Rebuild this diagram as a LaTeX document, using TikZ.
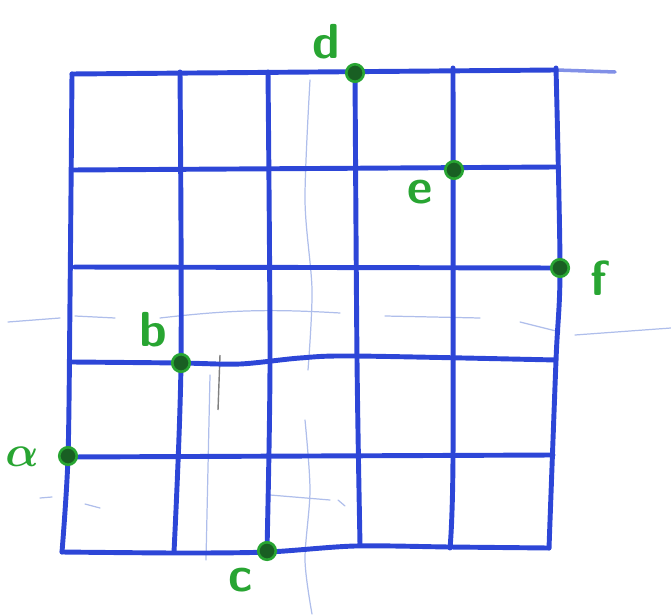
\documentclass[tikz,border=0pt]{standalone}
\usepackage{amsmath}
\usetikzlibrary{positioning}
\definecolor{pen}{RGB}{45,70,215}
\definecolor{ghost}{RGB}{175,190,235}
\definecolor{inkgreen}{RGB}{40,165,50}
\definecolor{inkdark}{RGB}{25,95,35}
\tikzset{
  gridline/.style={pen, line width=2.8pt, line cap=round, line join=round},
  faint/.style={ghost, line width=0.7pt, line cap=round},
  dot/.style={circle, draw=inkgreen, fill=inkdark, line width=1.5pt, minimum size=0.35cm, inner sep=0pt},
  letter/.style={text=inkgreen, font=\fontsize{28}{28}\selectfont\sffamily\bfseries}
}
\begin{document}
\begin{tikzpicture}[x=0.02cm, y=-0.02cm]
  \useasboundingbox (0,0) rectangle (671,614);
  % show-through from the back of the sheet
  \draw[faint] (8,322) -- (60,318) (75,316) -- (115,318) (160,318) to[bend left=5] (340,313);
  \draw[faint] (385,316) -- (480,318) (520,322) -- (560,332) (575,335) -- (671,328);
  \draw[faint] (40,498) -- (52,497) (85,504) -- (100,508) (270,495) -- (330,500) (338,500) -- (345,506);
  \draw[faint] plot[smooth] coordinates {(310,80) (305,200) (312,290) (308,370)};
  \draw[faint] plot[smooth] coordinates {(305,420) (310,490) (305,560) (312,614)};
  \draw[faint] (210,375) -- (206,560);
  \draw[gray, line width=0.8pt] (220,355) -- (218,410);

  % horizontal lines
  \draw[gridline] (72,74) -- (556,70);
  \draw[pen, line width=2pt, line cap=round, opacity=0.6] (556,70) -- (615,72);
  \draw[gridline] (72,170) -- (556,167);
  \draw[gridline] (75,267) -- (560,268);
  \draw[gridline] plot[smooth] coordinates {(72,362) (180,363) (240,364) (300,358) (355,356) (556,360)};
  \draw[gridline] (68,457) -- (553,455);
  \draw[gridline] plot[smooth] coordinates {(62,552) (180,553) (268,552) (355,546) (450,547) (549,548)};

  % vertical lines
  \draw[gridline] plot[smooth] coordinates {(72,74) (70,300) (68,457) (62,552)};
  \draw[gridline] plot[smooth] coordinates {(180,72) (181,363) (174,552)};
  \draw[gridline] plot[smooth] coordinates {(268,72) (270,362) (267,550)};
  \draw[gridline] plot[smooth] coordinates {(355,73) (357,360) (360,545)};
  \draw[gridline] plot[smooth] coordinates {(453,68) (453,457) (450,548)};
  \draw[gridline] plot[smooth] coordinates {(556,68) (560,268) (556,360) (549,548)};

  % points
  \node[dot] (pa) at (68,456) {};
  \node[dot] (pb) at (181,363) {};
  \node[dot] (pc) at (267,551) {};
  \node[dot] (pd) at (355,73) {};
  \node[dot] (pe) at (454,170) {};
  \node[dot] (pf) at (560,268) {};

  % letters
  \node[letter] (la) at (22,457) {$\boldsymbol{\alpha}$};
  \node[letter] (lb) at (153,330) {b};
  \node[letter] (lc) at (241,580) {c};
  \node[letter] (ld) at (326,42) {d};
  \node[letter] (le) at (420,192) {e};
  \node[letter] (lf) at (599,278) {f};
\end{tikzpicture}
\end{document}
